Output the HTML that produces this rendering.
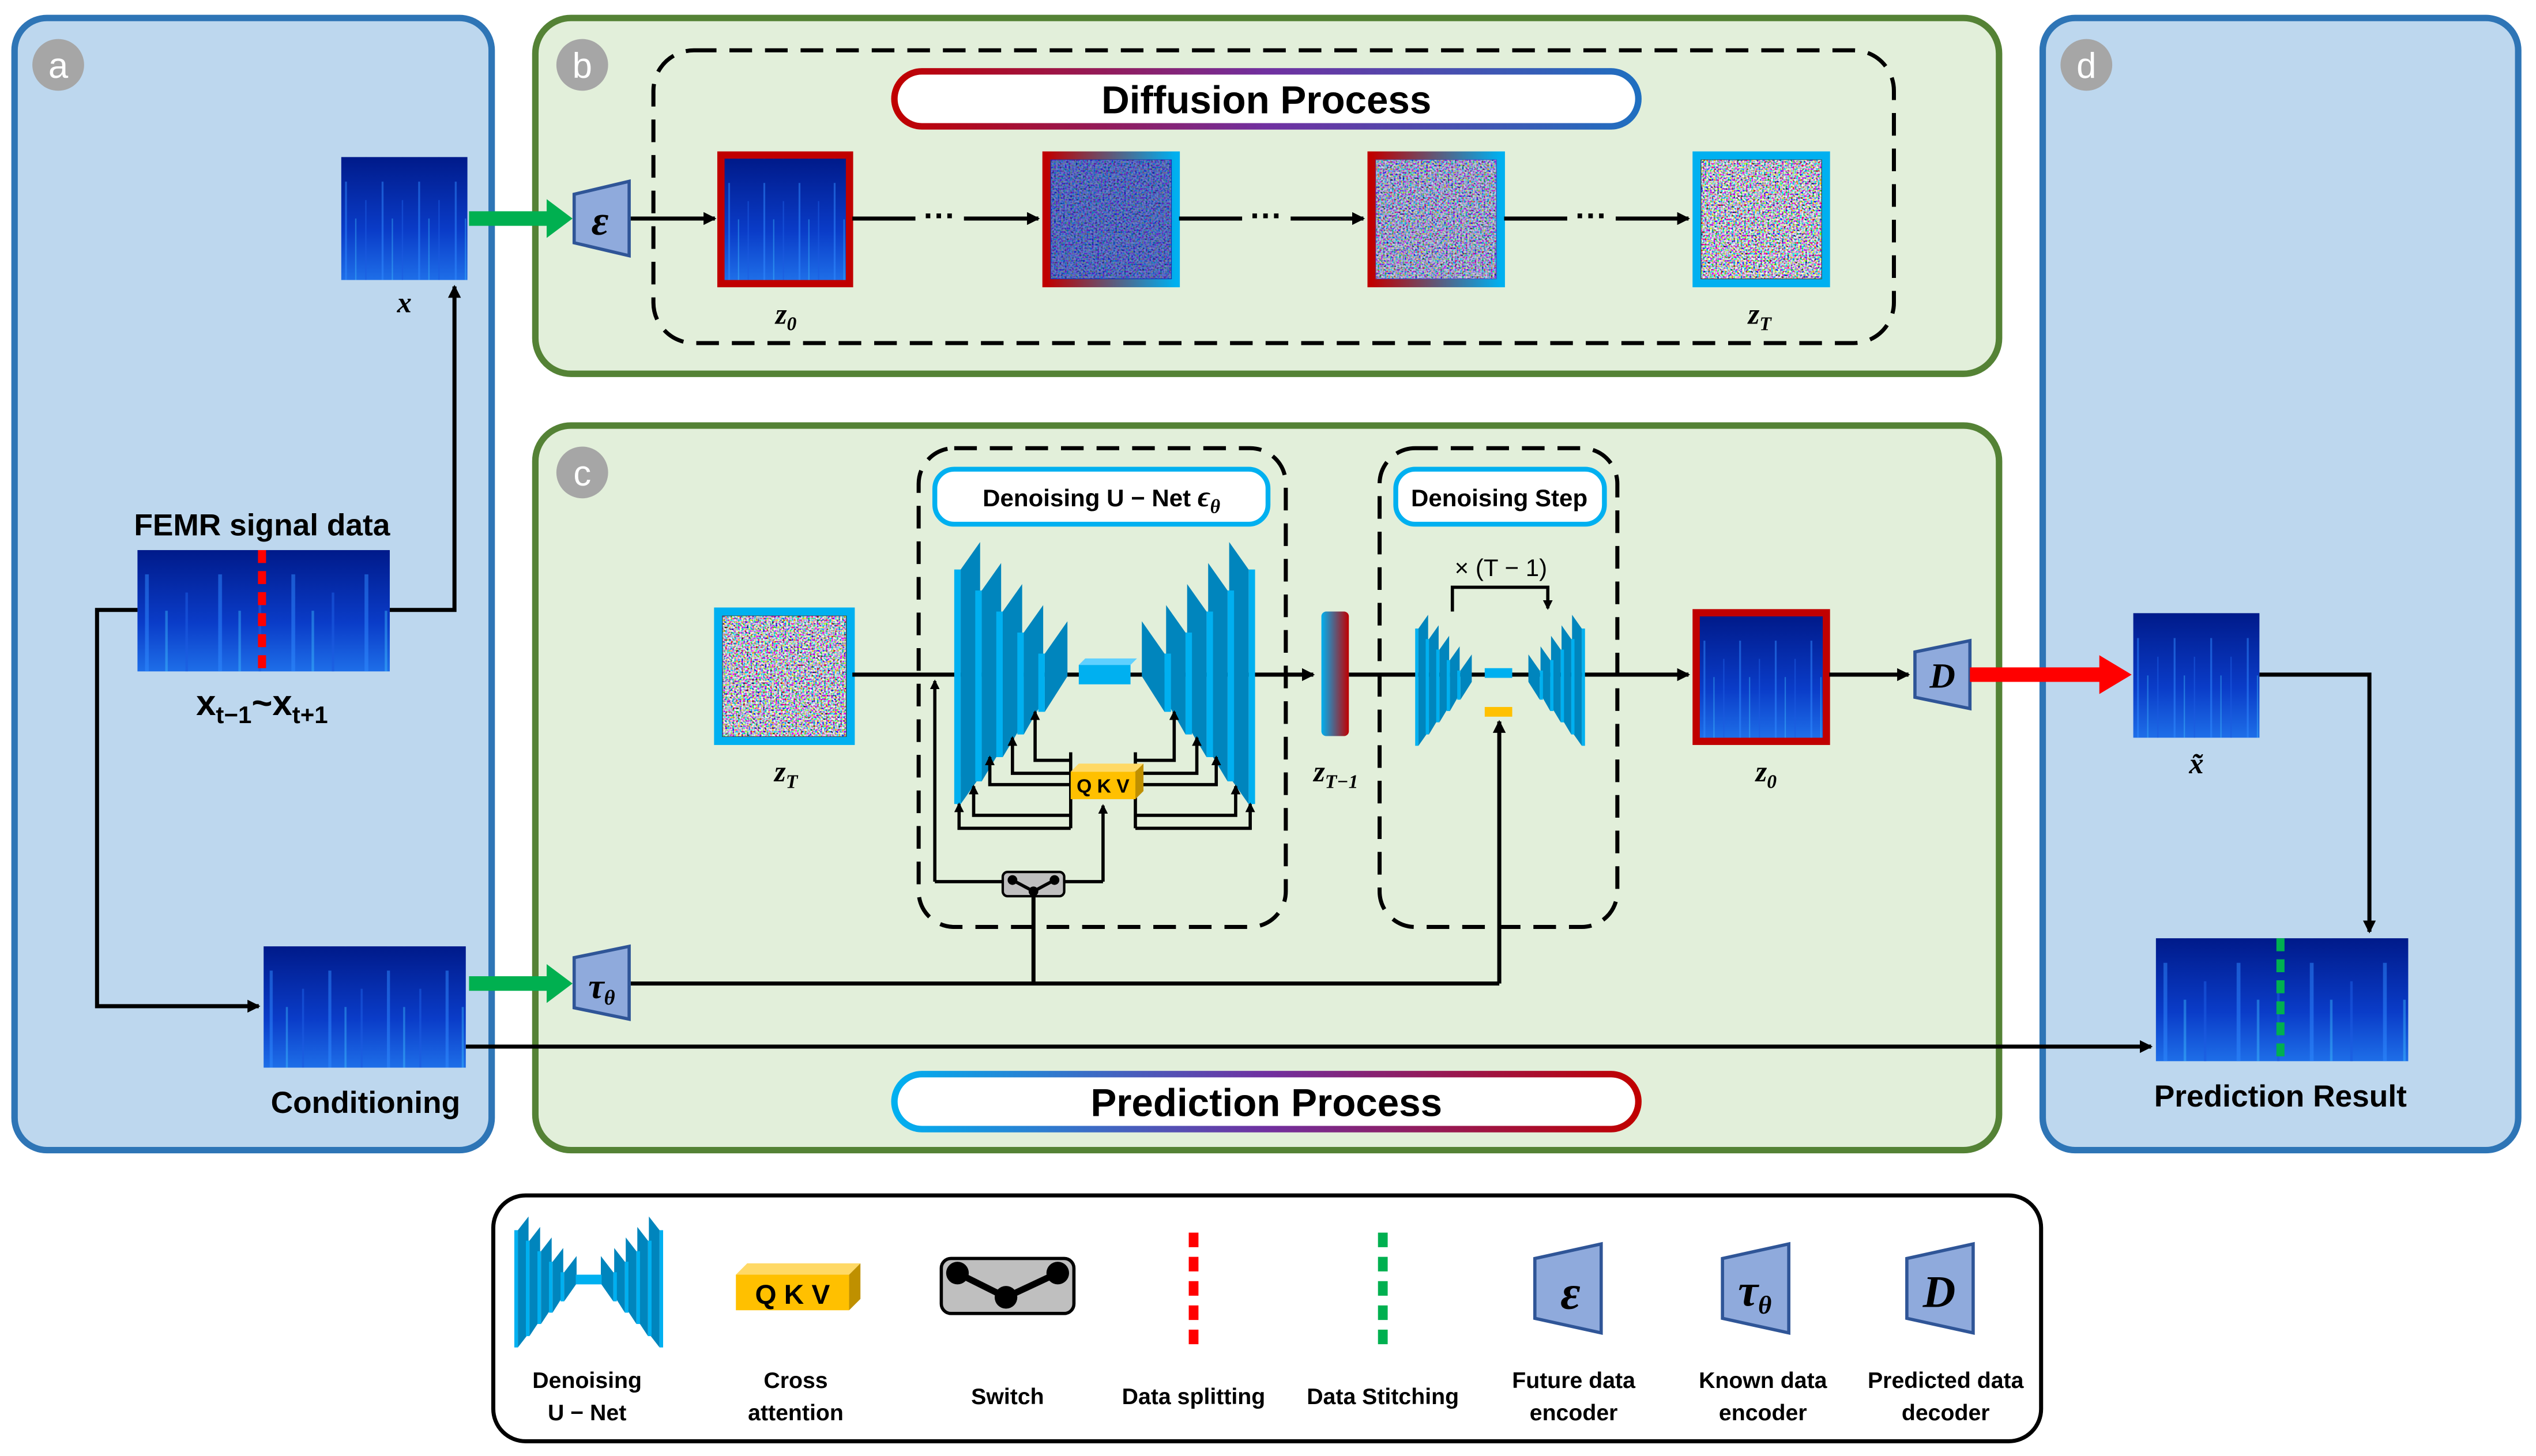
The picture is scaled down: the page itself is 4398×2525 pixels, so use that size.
<!DOCTYPE html>
<html><head><meta charset="utf-8"><style>
html,body{margin:0;padding:0;background:#fff;}
svg{display:block;}
text{font-family:"Liberation Sans",sans-serif;}
.b{font-weight:bold;}
.m{font-family:"Liberation Serif",serif;font-style:italic;font-weight:bold;}
</style></head><body>
<svg width="4398" height="2525" viewBox="0 0 1568 900" xmlns="http://www.w3.org/2000/svg">
<defs>
<marker id="ah" markerWidth="8" markerHeight="8" refX="7" refY="4" orient="auto" markerUnits="userSpaceOnUse"><path d="M0,0 L8,4 L0,8 z" fill="#000"/></marker>
<marker id="ahs" markerWidth="6" markerHeight="6" refX="5" refY="3" orient="auto" markerUnits="userSpaceOnUse"><path d="M0,0 L6,3 L0,6 z" fill="#000"/></marker>
<linearGradient id="spec" x1="0" y1="0" x2="0" y2="1"><stop offset="0" stop-color="#001a8a"/><stop offset="0.6" stop-color="#0a3cc8"/><stop offset="1" stop-color="#1e6ee8"/></linearGradient>
<pattern id="stripes" width="29" height="200" patternUnits="userSpaceOnUse">
<rect x="3" y="20" width="1.5" height="180" fill="#2f8cff" opacity="0.5"/><rect x="11" y="50" width="1" height="150" fill="#40c8ff" opacity="0.4"/><rect x="19" y="35" width="1" height="165" fill="#1a5ae0" opacity="0.6"/></pattern>
<filter id="noise" x="0" y="0" width="100%" height="100%"><feTurbulence type="fractalNoise" baseFrequency="0.9" numOctaves="1" seed="3"/><feColorMatrix type="matrix" values="3 0 0 0 -1  0 3 0 0 -1  0 0 3 0 -0.9  0 0 0 0 1"/></filter>
<linearGradient id="rb" x1="0" x2="1"><stop offset="0" stop-color="#c00000"/><stop offset="1" stop-color="#00b0f0"/></linearGradient>
<linearGradient id="br" x1="0" x2="1"><stop offset="0" stop-color="#00b0f0"/><stop offset="1" stop-color="#c00000"/></linearGradient>
<linearGradient id="pb" x1="0" x2="1"><stop offset="0" stop-color="#c00000"/><stop offset="0.5" stop-color="#7030a0"/><stop offset="1" stop-color="#1f6fc0"/></linearGradient>
<linearGradient id="bpr" x1="0" x2="1"><stop offset="0" stop-color="#00b0f0"/><stop offset="0.5" stop-color="#7030a0"/><stop offset="1" stop-color="#c00000"/></linearGradient>
<g id="spec1"><rect width="100" height="100" fill="url(#spec)"/><rect width="100" height="100" fill="url(#stripes)"/></g>
<g id="uhalf">
<g><rect x="590" y="352" width="4" height="145" fill="#00b0f0"/><polygon points="594,352 606,335 606,480 594,497" fill="#0085bd"/></g>
<g><rect x="603" y="365" width="4" height="118" fill="#00b0f0"/><polygon points="607,365 619,348 619,463 607,483" fill="#0085bd"/></g>
<g><rect x="616" y="378" width="4" height="90" fill="#00b0f0"/><polygon points="620,378 632,361 632,448 620,468" fill="#0085bd"/></g>
<g><rect x="629" y="391" width="4" height="63" fill="#00b0f0"/><polygon points="633,391 645,374 645,433 633,454" fill="#0085bd"/></g>
<g><rect x="642" y="404" width="4" height="36" fill="#00b0f0"/><polygon points="646,404 660,384 660,418 646,440" fill="#0085bd"/></g>
</g>
</defs>

<rect x="9" y="11" width="295" height="700" rx="20" fill="#bdd7ee" stroke="#2e75b6" stroke-width="4"/>
<rect x="1263" y="11" width="294" height="700" rx="20" fill="#bdd7ee" stroke="#2e75b6" stroke-width="4"/>
<rect x="331" y="11" width="905" height="220" rx="22" fill="#e2efda" stroke="#548235" stroke-width="4"/>
<rect x="331" y="263" width="905" height="448" rx="22" fill="#e2efda" stroke="#548235" stroke-width="4"/>
<rect x="305" y="739" width="957" height="152" rx="20" fill="#fff" stroke="#000" stroke-width="2.5"/>

<g fill="#a6a6a6"><circle cx="36" cy="40" r="16"/><circle cx="360" cy="40" r="16"/><circle cx="360" cy="292" r="16"/><circle cx="1290" cy="40" r="16"/></g>
<g fill="#fff" font-size="22" text-anchor="middle"><text x="36" y="48">a</text><text x="360" y="48">b</text><text x="360" y="300">c</text><text x="1290" y="48">d</text></g>

<use href="#spec1" transform="translate(211,97) scale(0.78,0.76)"/>
<text x="250" y="193" class="m" font-size="18" text-anchor="middle">x</text>
<text x="162" y="331" class="b" font-size="19" text-anchor="middle">FEMR signal data</text>
<use href="#spec1" transform="translate(85,340) scale(1.56,0.75)"/>
<line x1="162" y1="340" x2="162" y2="415" stroke="#ff0000" stroke-width="5" stroke-dasharray="8,5"/>
<text x="162" y="442" class="b" font-size="22" text-anchor="middle" font-family="Liberation Serif">x<tspan font-size="15" dy="5">t−1</tspan><tspan dy="-5">~x</tspan><tspan font-size="15" dy="5">t+1</tspan></text>
<use href="#spec1" transform="translate(163,585) scale(1.25,0.75)"/>
<text x="226" y="688" class="b" font-size="19" text-anchor="middle">Conditioning</text>
<polyline points="241,377 281,377 281,177" fill="none" stroke="#000" stroke-width="2.5" marker-end="url(#ah)"/>
<polyline points="85,377 60,377 60,622 160,622" fill="none" stroke="#000" stroke-width="2.5" marker-end="url(#ah)"/>
<line x1="290" y1="135" x2="340" y2="135" stroke="#00b050" stroke-width="9"/><polygon points="338,123 354,135 338,147" fill="#00b050"/>
<line x1="290" y1="608" x2="340" y2="608" stroke="#00b050" stroke-width="9"/><polygon points="338,596 354,608 338,620" fill="#00b050"/>
<line x1="288" y1="647" x2="1330" y2="647" stroke="#000" stroke-width="2.5" marker-end="url(#ah)"/>

<rect x="404" y="31" width="767" height="181" rx="25" fill="none" stroke="#000" stroke-width="2.5" stroke-dasharray="14,8"/>
<rect x="553" y="44" width="460" height="34" rx="17" fill="#fff" stroke="url(#pb)" stroke-width="4"/>
<text x="783" y="70" class="b" font-size="24" text-anchor="middle">Diffusion  Process</text>
<polygon points="355,120 389,112 389,158 355,150" fill="#8faadc" stroke="#2f5597" stroke-width="2"/>
<text x="371" y="145" class="m" font-size="26" text-anchor="middle">ε</text>
<line x1="390" y1="135" x2="442" y2="135" stroke="#000" stroke-width="2.5" marker-end="url(#ah)"/>
<rect x="446" y="96" width="79" height="79" fill="none" stroke="#c00000" stroke-width="5"/>
<use href="#spec1" transform="translate(448,98) scale(0.75)"/>
<rect x="647" y="96" width="80" height="79" fill="#1030b0" stroke="url(#rb)" stroke-width="5"/>
<rect x="650" y="99" width="74" height="73" filter="url(#noise)" opacity="0.4"/>
<rect x="848" y="96" width="80" height="79" fill="#4050c0" stroke="url(#rb)" stroke-width="5"/>
<rect x="851" y="99" width="74" height="73" filter="url(#noise)" opacity="0.75"/>
<rect x="1049" y="96" width="80" height="79" fill="#404040" stroke="#00b0f0" stroke-width="5"/>
<rect x="1052" y="99" width="74" height="73" filter="url(#noise)"/>
<g stroke="#000" stroke-width="2.5" fill="none">
<line x1="527" y1="135" x2="566" y2="135"/><line x1="596" y1="135" x2="642" y2="135" marker-end="url(#ah)"/>
<line x1="729" y1="135" x2="768" y2="135"/><line x1="798" y1="135" x2="843" y2="135" marker-end="url(#ah)"/>
<line x1="930" y1="135" x2="969" y2="135"/><line x1="999" y1="135" x2="1044" y2="135" marker-end="url(#ah)"/>
</g>
<g font-size="20" font-weight="bold" text-anchor="middle"><text x="581" y="140">···</text><text x="783" y="140">···</text><text x="984" y="140">···</text></g>
<text x="486" y="200" class="m" font-size="18" text-anchor="middle">z<tspan font-size="12" dy="4">0</tspan></text>
<text x="1088" y="200" class="m" font-size="18" text-anchor="middle">z<tspan font-size="12" dy="4">T</tspan></text>

<rect x="568" y="277" width="227" height="296" rx="22" fill="none" stroke="#000" stroke-width="2.5" stroke-dasharray="14,8"/>
<rect x="853" y="277" width="147" height="296" rx="22" fill="none" stroke="#000" stroke-width="2.5" stroke-dasharray="14,8"/>
<rect x="578" y="290" width="206" height="34" rx="12" fill="#fff" stroke="#00b0f0" stroke-width="3"/>
<text x="681" y="313" class="b" font-size="15" text-anchor="middle">Denoising  U − Net  <tspan class="m" font-size="18">ϵ<tspan font-size="12" dy="4">θ</tspan></tspan></text>
<rect x="863" y="290" width="129" height="34" rx="12" fill="#fff" stroke="#00b0f0" stroke-width="3"/>
<text x="927" y="313" class="b" font-size="15" text-anchor="middle">Denoising Step</text>
<rect x="444" y="378" width="82" height="80" fill="#404040" stroke="#00b0f0" stroke-width="5"/>
<rect x="447" y="381" width="76" height="74" filter="url(#noise)"/>
<text x="486" y="483" class="m" font-size="18" text-anchor="middle">z<tspan font-size="12" dy="4">T</tspan></text>
<line x1="527" y1="417" x2="812" y2="417" stroke="#000" stroke-width="2.5" marker-end="url(#ah)"/>
<line x1="834" y1="417" x2="1044" y2="417" stroke="#000" stroke-width="2.5" marker-end="url(#ah)"/>
<use href="#uhalf"/>
<use href="#uhalf" transform="translate(1366,0) scale(-1,1)"/>
<rect x="667" y="411" width="32" height="12" fill="#00b0f0"/><polygon points="667,411 671,407 703,407 699,411" fill="#5fd0ff"/>
<g stroke="#000" stroke-width="2" fill="none" marker-end="url(#ahs)">
<polyline points="662,512 593,512 593,497"/>
<polyline points="662,504 602,504 602,486"/>
<polyline points="662,485 612,485 612,468"/>
<polyline points="662,478 626,478 626,456"/>
<polyline points="662,470 640,470 640,440"/>
<polyline points="702,512 773,512 773,497"/>
<polyline points="702,504 764,504 764,486"/>
<polyline points="702,485 752,485 752,468"/>
<polyline points="702,478 740,478 740,456"/>
<polyline points="702,470 726,470 726,440"/>
<polyline points="578,545 578,421"/><polyline points="682,545 682,498"/>
</g>
<line x1="662" y1="465" x2="662" y2="512" stroke="#000" stroke-width="2"/>
<line x1="702" y1="465" x2="702" y2="512" stroke="#000" stroke-width="2"/>
<line x1="578" y1="545" x2="682" y2="545" stroke="#000" stroke-width="2"/>
<rect x="662" y="477" width="40" height="17" fill="#ffc000"/><polygon points="662,477 667,472 707,472 702,477" fill="#ffd966"/><polygon points="702,477 707,472 707,489 702,494" fill="#bf9000"/>
<text x="682" y="490" font-size="12" font-weight="bold" text-anchor="middle">Q K V</text>
<rect x="620" y="539" width="38" height="15" rx="3" fill="#bfbfbf" stroke="#000" stroke-width="1.5"/>
<polyline points="626,544 639,551 652,544" fill="none" stroke="#000" stroke-width="2"/>
<circle cx="626" cy="544" r="3" fill="#000"/><circle cx="639" cy="551" r="3" fill="#000"/><circle cx="652" cy="544" r="3" fill="#000"/>
<line x1="390" y1="608" x2="927" y2="608" stroke="#000" stroke-width="2.5"/>
<line x1="639" y1="608" x2="639" y2="554" stroke="#000" stroke-width="2.5"/>
<line x1="927" y1="608" x2="927" y2="446" stroke="#000" stroke-width="2.5" marker-end="url(#ah)"/>
<polygon points="355,592 389,585 389,630 355,623" fill="#8faadc" stroke="#2f5597" stroke-width="2"/>
<text x="372" y="617" class="m" font-size="22" text-anchor="middle">τ<tspan font-size="13" dy="4">θ</tspan></text>
<rect x="817" y="378" width="17" height="77" rx="3" fill="url(#br)"/>
<text x="826" y="483" class="m" font-size="18" text-anchor="middle">z<tspan font-size="12" dy="4">T−1</tspan></text>
<g transform="translate(875,380) scale(0.5,0.5) translate(-590,-335)"><use href="#uhalf"/></g>
<g transform="translate(980,380) scale(-0.5,0.5) translate(-590,-335)"><use href="#uhalf"/></g>
<rect x="918" y="413" width="17" height="6" fill="#00b0f0"/>
<rect x="918" y="437" width="17" height="6" fill="#ffc000"/>
<polyline points="898,378 898,363 957,363 957,376" fill="none" stroke="#000" stroke-width="2" marker-end="url(#ahs)"/>
<text x="928" y="356" font-size="15" text-anchor="middle" font-family="Liberation Serif">× (T − 1)</text>
<rect x="1049" y="379" width="80" height="79" fill="none" stroke="#c00000" stroke-width="5"/>
<use href="#spec1" transform="translate(1051,381) scale(0.76,0.75)"/>
<text x="1092" y="483" class="m" font-size="18" text-anchor="middle">z<tspan font-size="12" dy="4">0</tspan></text>
<line x1="1131" y1="417" x2="1180" y2="417" stroke="#000" stroke-width="2.5" marker-end="url(#ah)"/>
<polygon points="1184,403 1218,396 1218,438 1184,431" fill="#8faadc" stroke="#2f5597" stroke-width="2"/>
<text x="1201" y="425" class="m" font-size="22" text-anchor="middle">D</text>
<line x1="1218" y1="417" x2="1300" y2="417" stroke="#ff0000" stroke-width="9"/><polygon points="1298,405 1318,417 1298,429" fill="#ff0000"/>
<rect x="553" y="664" width="460" height="34" rx="17" fill="#fff" stroke="url(#bpr)" stroke-width="4"/>
<text x="783" y="690" class="b" font-size="24" text-anchor="middle">Prediction  Process</text>

<use href="#spec1" transform="translate(1319,379) scale(0.78,0.77)"/>
<text x="1358" y="478" class="m" font-size="18" text-anchor="middle">x̃</text>
<polyline points="1397,417 1465,417 1465,576" fill="none" stroke="#000" stroke-width="2.5" marker-end="url(#ah)"/>
<use href="#spec1" transform="translate(1333,580) scale(1.56,0.76)"/>
<line x1="1410" y1="580" x2="1410" y2="656" stroke="#00b050" stroke-width="5" stroke-dasharray="8,5"/>
<text x="1410" y="684" class="b" font-size="19" text-anchor="middle">Prediction Result</text>

<g transform="translate(318,752) scale(0.55,0.5) translate(-590,-335)"><use href="#uhalf"/></g>
<g transform="translate(410,752) scale(-0.55,0.5) translate(-590,-335)"><use href="#uhalf"/></g>
<rect x="356" y="788" width="16" height="6" fill="#00b0f0"/>
<rect x="455" y="788" width="70" height="22" fill="#ffc000"/><polygon points="455,788 462,781 532,781 525,788" fill="#ffd966"/><polygon points="525,788 532,781 532,803 525,810" fill="#bf9000"/>
<text x="490" y="806" font-size="17" font-weight="bold" text-anchor="middle">Q K V</text>
<rect x="582" y="778" width="82" height="34" rx="6" fill="#bfbfbf" stroke="#000" stroke-width="2"/>
<polyline points="592,787 622,802 654,787" fill="none" stroke="#000" stroke-width="4"/>
<circle cx="592" cy="787" r="7" fill="#000"/><circle cx="622" cy="802" r="7" fill="#000"/><circle cx="654" cy="787" r="7" fill="#000"/>
<line x1="738" y1="762" x2="738" y2="832" stroke="#ff0000" stroke-width="6" stroke-dasharray="9,6"/>
<line x1="855" y1="762" x2="855" y2="832" stroke="#00b050" stroke-width="6" stroke-dasharray="9,6"/>
<polygon points="949,778 990,769 990,824 949,815" fill="#8faadc" stroke="#2f5597" stroke-width="2"/>
<text x="971" y="809" class="m" font-size="30" text-anchor="middle">ε</text>
<polygon points="1065,778 1106,769 1106,824 1065,815" fill="#8faadc" stroke="#2f5597" stroke-width="2"/>
<text x="1085" y="807" class="m" font-size="28" text-anchor="middle">τ<tspan font-size="16" dy="5">θ</tspan></text>
<polygon points="1179,778 1220,769 1220,824 1179,815" fill="#8faadc" stroke="#2f5597" stroke-width="2"/>
<text x="1199" y="808" class="m" font-size="28" text-anchor="middle">D</text>
<g font-size="14" font-weight="bold" text-anchor="middle">
<text x="363" y="858">Denoising</text><text x="363" y="878">U − Net</text>
<text x="492" y="858">Cross</text><text x="492" y="878">attention</text>
<text x="623" y="868">Switch</text>
<text x="738" y="868">Data splitting</text>
<text x="855" y="868">Data Stitching</text>
<text x="973" y="858">Future data</text><text x="973" y="878">encoder</text>
<text x="1090" y="858">Known data</text><text x="1090" y="878">encoder</text>
<text x="1203" y="858">Predicted data</text><text x="1203" y="878">decoder</text>
</g>
</svg>
</body></html>
